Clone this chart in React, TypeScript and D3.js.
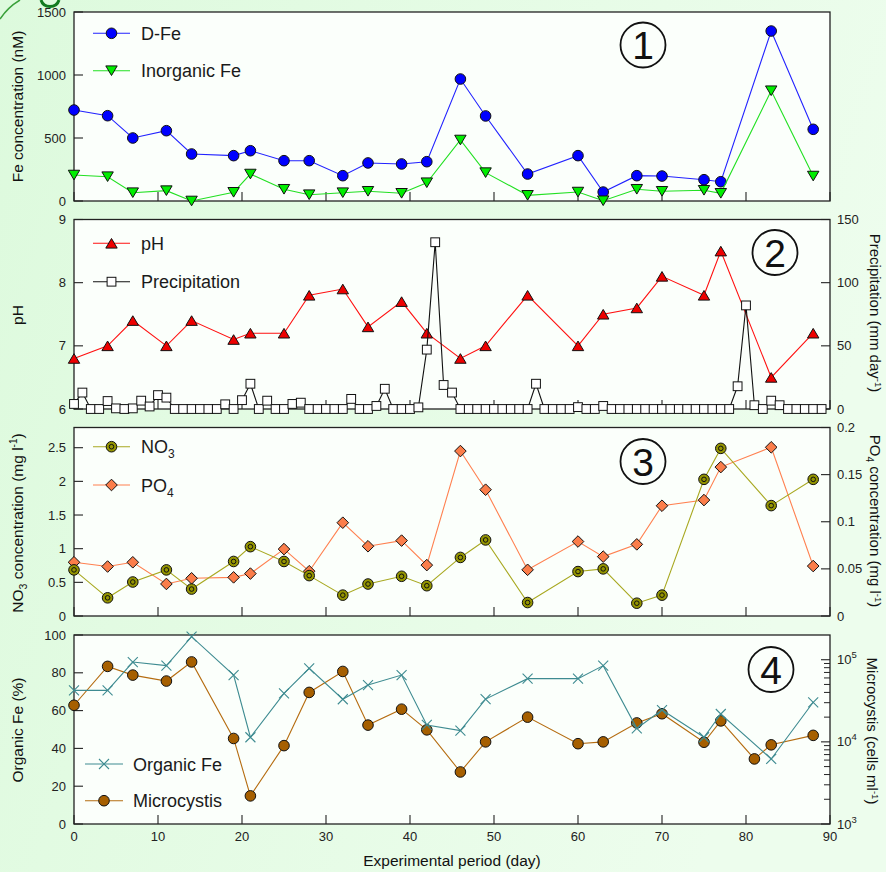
import * as d3 from 'd3'

const W = 886
const H = 872
const FONT = '"Liberation Sans", Arial, Helvetica, sans-serif'

// sampling days of the water samples
const sampleDays = [0, 4, 7, 11, 14, 19, 21, 25, 28, 32, 35, 39, 42, 46, 49, 54, 60, 63, 67, 70, 75, 77, 83, 88]
const dFe = [722, 677, 500, 558, 373, 360, 399, 320, 320, 201, 302, 294, 312, 968, 675, 214, 360, 71, 201, 198, 169, 153, 1349, 569]
const inorganicFe = [206, 193, 66, 82, 0, 69, 214, 93, 50, 66, 77, 61, 145, 484, 225, 45, 71, 2, 93, 77, 85, 61, 875, 198]
const pH = [6.8, 7.0, 7.4, 7.0, 7.4, 7.1, 7.2, 7.2, 7.8, 7.9, 7.3, 7.7, 7.2, 6.8, 7.0, 7.8, 7.0, 7.5, 7.6, 8.1, 7.8, 8.5, 6.5, 7.2]
const no3 = [0.685, 0.27, 0.505, 0.685, 0.4, 0.81, 1.03, 0.81, 0.6, 0.31, 0.475, 0.59, 0.45, 0.87, 1.13, 0.2, 0.66, 0.7, 0.19, 0.31, 2.03, 2.49, 1.64, 2.03]
const po4 = [0.057, 0.0525, 0.057, 0.034, 0.04, 0.041, 0.045, 0.071, 0.0475, 0.099, 0.074, 0.08, 0.054, 0.175, 0.134, 0.049, 0.079, 0.063, 0.076, 0.117, 0.123, 0.158, 0.179, 0.053]
const organicFe = [70.7, 70.7, 85.7, 83.8, 99.1, 78.8, 45.9, 69.1, 82.4, 66, 73.5, 78.8, 52.4, 49.4, 66.1, 76.9, 76.9, 83.8, 50.6, 60.3, 45.9, 58.2, 34.4, 64.4]

// microcystis counts (cells/ml)
const microDays = [0, 4, 7, 11, 14, 19, 21, 25, 28, 32, 35, 39, 42, 46, 49, 54, 60, 63, 67, 70, 75, 77, 81, 83, 88]
const microcystis = [27900, 83000, 65000, 55000, 94000, 11000, 2200, 9000, 40000, 72000, 16000, 25000, 14000, 4300, 10000, 20000, 9500, 10000, 17000, 22000, 9900, 18000, 6200, 9200, 12000]

// daily precipitation (mm/day), days 0..89
const precipitation = [
  4, 13, 0, 0, 6.3, 0.5, 0, 0.5, 6.6, 2, 11, 9, 0, 0, 0, 0, 0, 0, 3.7, 0,
  7, 20, 0, 6.6, 0, 0, 4, 5, 0, 0, 0, 0, 0, 8, 0, 0, 2.4, 16, 0, 0,
  0, 1.3, 47, 132, 19, 13, 0, 0, 0, 0, 0, 0, 0, 0, 0, 20, 0, 0, 0, 0,
  1.5, 0, 0, 2.4, 0, 0, 0, 0, 0, 0, 0, 0, 0, 0, 0, 0, 0, 0, 0, 18,
  82, 3, 0, 6.6, 3, 0, 0, 0, 0, 0,
]
const precipDays = precipitation.map((_, i) => i)

const xTicks = [0, 10, 20, 30, 40, 50, 60, 70, 80, 90]
const feTicks = [0, 500, 1000, 1500]
const pHTicks = [6, 7, 8, 9]
const precipTicks = [0, 50, 100, 150]
const no3Ticks = [0, 0.5, 1, 1.5, 2, 2.5]
const po4Ticks = [0, 0.05, 0.1, 0.15, 0.2]
const orgTicks = [0, 20, 40, 60, 80, 100]
const microTicks = [1e3, 1e4, 1e5]

const L = 74
const R = 830
const P1 = { top: 12, bottom: 201 }
const P2 = { top: 219.5, bottom: 409 }
const P3 = { top: 427.5, bottom: 616 }
const P4 = { top: 635, bottom: 824 }

const x = d3.scaleLinear().domain([0, 90]).range([L, R])
const yFe = d3.scaleLinear().domain([0, 1500]).range([P1.bottom, P1.top])
const yPH = d3.scaleLinear().domain([6, 9]).range([P2.bottom, P2.top])
const yPrecip = d3.scaleLinear().domain([0, 150]).range([P2.bottom, P2.top])
const yNO3 = d3.scaleLinear().domain([0, 2.8]).range([P3.bottom, P3.top])
const yPO4 = d3.scaleLinear().domain([0, 0.2]).range([P3.bottom, P3.top])
const yOrg = d3.scaleLinear().domain([0, 100]).range([P4.bottom, P4.top])
const yMicro = d3.scaleLog().domain([1e3, 2e5]).range([P4.bottom, P4.top])

type Kind = 'circle' | 'triDown' | 'triUp' | 'square' | 'dotCircle' | 'diamond' | 'cross'

function Marker({ kind, cx, cy, fill }: { kind: Kind; cx: number; cy: number; fill: string }) {
  const st = { stroke: '#111', strokeWidth: 1 }
  if (kind === 'circle') return <circle cx={cx} cy={cy} r={5.3} fill={fill} {...st} />
  if (kind === 'dotCircle')
    return (
      <g>
        <circle cx={cx} cy={cy} r={5.3} fill={fill} {...st} />
        <circle cx={cx} cy={cy} r={2.3} fill={fill} {...st} />
      </g>
    )
  if (kind === 'triDown') {
    const a = 5.7, h = 4.8
    return <path d={`M${cx - a},${cy - h}L${cx + a},${cy - h}L${cx},${cy + h}Z`} fill={fill} {...st} />
  }
  if (kind === 'triUp') {
    const a = 5.7, h = 4.8
    return <path d={`M${cx - a},${cy + h}L${cx + a},${cy + h}L${cx},${cy - h}Z`} fill={fill} {...st} />
  }
  if (kind === 'square') return <rect x={cx - 4.4} y={cy - 4.4} width={8.8} height={8.8} fill={fill} {...st} />
  if (kind === 'diamond') {
    const s = 5.8
    return <path d={`M${cx},${cy - s}L${cx + s},${cy}L${cx},${cy + s}L${cx - s},${cy}Z`} fill={fill} {...st} />
  }
  const s = 5
  return <path d={`M${cx - s},${cy - s}L${cx + s},${cy + s}M${cx - s},${cy + s}L${cx + s},${cy - s}`} stroke={fill} strokeWidth={1.1} fill="none" />
}

function Series({ xs, ys, y, color, kind, fill }: { xs: number[]; ys: number[]; y: (v: number) => number; color: string; kind: Kind; fill: string }) {
  const pts = xs.map((d, i) => [x(d), y(ys[i])] as [number, number])
  const line = d3.line()
  return (
    <g>
      <path d={line(pts) ?? ''} fill="none" stroke={color} strokeWidth={1.1} />
      {pts.map((p, i) => (
        <Marker key={i} kind={kind} cx={p[0]} cy={p[1]} fill={fill} />
      ))}
    </g>
  )
}

function Legend({ x1, x2, tx, y, color, kind, fill, children }: any) {
  return (
    <g>
      <line x1={x1} x2={x2} y1={y} y2={y} stroke={color} strokeWidth={1.1} />
      <Marker kind={kind} cx={(x1 + x2) / 2} cy={y} fill={fill} />
      <text x={tx} y={y + 6.5} fontSize={18} fill="#1a1a1a">{children}</text>
    </g>
  )
}

function Frame({ p, labels }: { p: { top: number; bottom: number }; labels?: boolean }) {
  return (
    <g>
      <rect x={L} y={p.top} width={R - L} height={p.bottom - p.top} fill="#fbfffb" stroke="#222" strokeWidth={1.3} />
      {xTicks.map((t) => (
        <g key={t}>
          <line x1={x(t)} x2={x(t)} y1={p.bottom} y2={p.bottom - 9} stroke="#222" strokeWidth={1.1} />
          {labels && (
            <text x={x(t)} y={p.bottom + 17} fontSize={13} textAnchor="middle" fill="#222">{t}</text>
          )}
        </g>
      ))}
    </g>
  )
}

function YAxis({ ticks, scale, side, fmt }: { ticks: number[]; scale: (v: number) => number; side: 'left' | 'right'; fmt?: (v: number) => any }) {
  const x0 = side === 'left' ? L : R
  const dir = side === 'left' ? 1 : -1
  return (
    <g>
      {ticks.map((t) => (
        <g key={t}>
          <line x1={x0} x2={x0 + dir * 9} y1={scale(t)} y2={scale(t)} stroke="#222" strokeWidth={1.1} />
          <text
            x={side === 'left' ? x0 - 8 : x0 + 7}
            y={scale(t) + 4.5}
            fontSize={13}
            textAnchor={side === 'left' ? 'end' : 'start'}
            fill="#222"
          >
            {fmt ? fmt(t) : t}
          </text>
        </g>
      ))}
    </g>
  )
}

function Circled({ cx, cy, n }: { cx: number; cy: number; n: string }) {
  return (
    <g>
      <circle cx={cx} cy={cy} r={22.5} fill="none" stroke="#111" strokeWidth={1.8} />
      <text x={cx} y={cy + 14} fontSize={39} textAnchor="middle" fill="#111">{n}</text>
    </g>
  )
}

export default function App() {
  const minor: number[] = []
  for (const dec of [1e3, 1e4, 1e5]) for (let k = 2; k <= 9; k++) if (dec * k < 2e5) minor.push(dec * k)

  return (
    <div style={{ position: 'absolute', left: 0, top: 0 }}>
      <svg width={W} height={H} style={{ display: 'block', fontFamily: FONT }}>
        <defs>
          <linearGradient id="bg" x1="0" y1="0" x2="1" y2="0.3">
            <stop offset="0" stopColor="#ddfadd" />
            <stop offset="1" stopColor="#edfded" />
          </linearGradient>
        </defs>
        <rect width={W} height={H} fill="url(#bg)" />
        {/* decorative corner and clipped title glyph */}
        <path d="M0,19 Q8,7 20,0" fill="none" stroke="#3aa03a" strokeWidth={1.5} />
        <path d="M41,0 Q43,6.5 50,6.5 Q57,6.5 59,0" fill="none" stroke="#127a20" strokeWidth={3} />

        {/* panel 1 */}
        <Frame p={P1} />
        <YAxis ticks={feTicks} scale={yFe} side="left" />
        <Series xs={sampleDays} ys={dFe} y={yFe} color="#2222ff" kind="circle" fill="#0000ff" />
        <Series xs={sampleDays} ys={inorganicFe} y={yFe} color="#22e022" kind="triDown" fill="#00ee00" />
        <Legend x1={93} x2={130} tx={141} y={33.3} color="#2222ff" kind="circle" fill="#0000ff">D-Fe</Legend>
        <Legend x1={93} x2={130} tx={141} y={70.7} color="#22e022" kind="triDown" fill="#00ee00">Inorganic Fe</Legend>
        <Circled cx={643} cy={45} n="1" />
        <text transform={`translate(23,${(P1.top + P1.bottom) / 2}) rotate(-90)`} fontSize={15.5} textAnchor="middle" fill="#111">
          Fe concentration (nM)
        </text>

        {/* panel 2 */}
        <Frame p={P2} />
        <YAxis ticks={pHTicks} scale={yPH} side="left" />
        <YAxis ticks={precipTicks} scale={yPrecip} side="right" />
        <Series xs={sampleDays} ys={pH} y={yPH} color="#ff1010" kind="triUp" fill="#ee0000" />
        <Series xs={precipDays} ys={precipitation} y={yPrecip} color="#111" kind="square" fill="#ffffff" />
        <Legend x1={93} x2={130} tx={141} y={243.3} color="#ff1010" kind="triUp" fill="#ee0000">pH</Legend>
        <Legend x1={93} x2={130} tx={141} y={281.7} color="#111" kind="square" fill="#ffffff">Precipitation</Legend>
        <Circled cx={775} cy={252.5} n="2" />
        <text transform={`translate(23,315) rotate(-90)`} fontSize={15.5} textAnchor="middle" fill="#111">pH</text>
        <text transform={`translate(870,313) rotate(90)`} fontSize={15} textAnchor="middle" fill="#111">
          Precipitation (mm day<tspan dy={-5} fontSize={9.5}>-1</tspan><tspan dy={5}>)</tspan>
        </text>

        {/* panel 3 */}
        <Frame p={P3} />
        <YAxis ticks={no3Ticks} scale={yNO3} side="left" />
        <YAxis ticks={po4Ticks} scale={yPO4} side="right" />
        <Series xs={sampleDays} ys={po4} y={yPO4} color="#ff8050" kind="diamond" fill="#fb7d4a" />
        <Series xs={sampleDays} ys={no3} y={yNO3} color="#a8a820" kind="dotCircle" fill="#949400" />
        <Legend x1={93} x2={130} tx={141} y={446.7} color="#a8a820" kind="dotCircle" fill="#949400">
          NO<tspan dy={5} fontSize={12}>3</tspan>
        </Legend>
        <Legend x1={93} x2={130} tx={141} y={485} color="#ff8050" kind="diamond" fill="#fb7d4a">
          PO<tspan dy={5} fontSize={12}>4</tspan>
        </Legend>
        <Circled cx={643} cy={461.5} n="3" />
        <text transform={`translate(23,523) rotate(-90)`} fontSize={15.5} textAnchor="middle" fill="#111">
          NO<tspan dy={4} fontSize={10.5}>3</tspan><tspan dy={-4}> concentration (mg l</tspan>
          <tspan dy={-6} fontSize={10}>-1</tspan><tspan dy={6}>)</tspan>
        </text>
        <text transform={`translate(870,521) rotate(90)`} fontSize={15} textAnchor="middle" fill="#111">
          PO<tspan dy={4} fontSize={10}>4</tspan><tspan dy={-4}> concentration (mg l</tspan>
          <tspan dy={-5} fontSize={9.5}>-1</tspan><tspan dy={5}>)</tspan>
        </text>

        {/* panel 4 */}
        <Frame p={P4} labels />
        <YAxis ticks={orgTicks} scale={yOrg} side="left" />
        {minor.map((m) => (
          <line key={m} x1={R} x2={R - 6} y1={yMicro(m)} y2={yMicro(m)} stroke="#222" strokeWidth={1} />
        ))}
        <YAxis
          ticks={microTicks}
          scale={yMicro}
          side="right"
          fmt={(v) => (
            <>
              10<tspan dy={-6} fontSize={9.5}>{Math.round(Math.log10(v))}</tspan>
            </>
          )}
        />
        <Series xs={microDays} ys={microcystis} y={yMicro} color="#b56c10" kind="circle" fill="#a65f00" />
        <Series xs={sampleDays} ys={organicFe} y={yOrg} color="#3e8b91" kind="cross" fill="#3e8b91" />
        <Legend x1={85} x2={123} tx={133} y={764} color="#3e8b91" kind="cross" fill="#3e8b91">Organic Fe</Legend>
        <Legend x1={85} x2={123} tx={133} y={800.7} color="#b56c10" kind="circle" fill="#a65f00">Microcystis</Legend>
        <Circled cx={771} cy={669.5} n="4" />
        <text transform={`translate(23,730) rotate(-90)`} fontSize={15.5} textAnchor="middle" fill="#111">Organic Fe (%)</text>
        <text transform={`translate(867,731) rotate(90)`} fontSize={15} textAnchor="middle" fill="#111">
          Microcystis (cells ml<tspan dy={-5} fontSize={9.5}>-1</tspan><tspan dy={5}>)</tspan>
        </text>
        <text x={452} y={866} fontSize={15.5} textAnchor="middle" fill="#111">Experimental period (day)</text>
      </svg>
    </div>
  )
}
